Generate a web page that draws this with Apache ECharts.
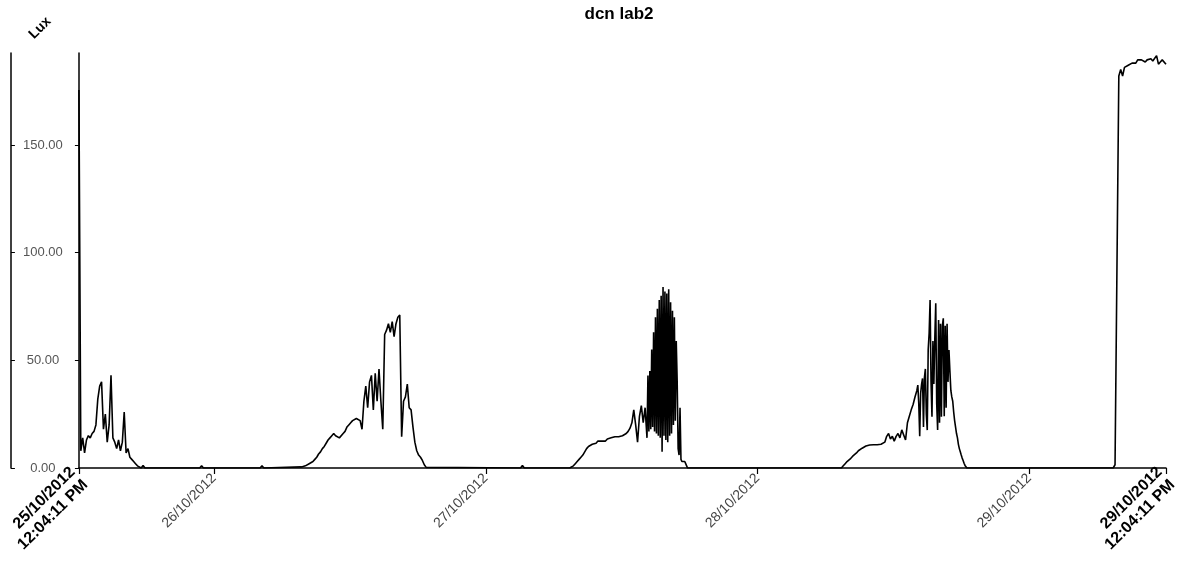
<!DOCTYPE html>
<html>
<head>
<meta charset="utf-8">
<title>dcn lab2</title>
<script src="https://cdn.jsdelivr.net/npm/echarts@6/dist/echarts.min.js"></script>
<style>
  html, body { margin: 0; padding: 0; background: #fff; }
  #chart { width: 1190px; height: 562px; }
</style>
</head>
<body>
<div id="chart"></div>
<script>
// time range of the log (UTC, so no DST surprises)
const startMs = Date.UTC(2012, 9, 25, 12, 4, 11);
const endMs = Date.UTC(2012, 9, 29, 12, 4, 11);

// x axis ticks and their labels
const xTickTimes = [
    startMs,
    Date.UTC(2012, 9, 26), Date.UTC(2012, 9, 27), Date.UTC(2012, 9, 28), Date.UTC(2012, 9, 29),
    endMs
];
const xTickLabels = [
    '25/10/2012\n12:04:11 PM',
    '26/10/2012', '27/10/2012', '28/10/2012', '29/10/2012',
    '29/10/2012\n12:04:11 PM'
];
const yTicks = [0, 50, 100, 150];

// lux readings. each run: minutes after start, step in minutes
const lux25 = [175.5, 8, 14, 7, 13, 15, 14, 16, 17, 20, 32, 38, 40, 18, 25, 12, 20, 43, 14, 12,
    9, 13, 8, 12, 26, 7, 9, 5, 4, 3, 2, 1, 0.5, 0];
const lux26 = [0.5, 1, 1, 1.5, 2, 2, 3, 4, 5, 6.5, 7.5, 9, 10, 11.5, 13, 14, 15, 16, 15, 14.5,
    14, 14, 16, 17, 19, 20, 21, 22, 22, 23, 23, 22, 18, 31, 38, 28, 40, 43, 27, 44,
    31, 46, 31, 18, 62, 64, 67, 63, 68, 61, 67, 70, 71, 14.5, 31, 33, 39, 28, 27, 19,
    12, 8, 6, 5, 3.5, 1.5, 0.3, 0];
const lux27Rise = [0, 0.5, 1, 2, 3, 4, 5, 6, 7.5, 9, 10, 10.5, 11, 11.5, 11.5, 12.5, 12, 12.5, 13, 12.5,
    13.5, 13.5, 14, 13.5, 14.5, 14, 14.5, 15, 15, 15.5, 16, 17, 18.5, 21, 27, 20, 12, 24, 29, 21, 28];
const lux27Peak = [14, 43, 17, 45, 18, 55, 19, 63, 17, 70, 16, 74, 15, 78, 14, 80, 7.5, 84, 15, 82,
    13, 81, 12, 83, 15, 77, 16, 73, 20, 70, 22, 59, 40, 9, 6, 28, 4, 3, 3, 2.5, 3, 2, 1, 0];
const lux28Rise = [0, 1, 2, 3, 3.7, 4.5, 5.5, 6.3, 7, 8, 8.5, 9.2, 9.8, 10.2, 10.7, 10.7, 10.7, 10.8, 10.7, 10.8,
    10.7, 11, 11.5, 12, 14.7, 16, 13.5, 14.7, 12.5, 14.7, 16, 14, 17.7, 18.5, 13, 21, 24, 27, 29.5, 33];
const lux28Peak = [36, 38.5, 30, 14.7, 34.7, 39, 41.6, 19, 42, 46, 25, 17.6, 55, 62.5, 78, 40, 23.8, 59, 39, 60,
    76.5, 30, 17.6, 68.7, 21, 67, 23.8, 66, 69.5, 24, 66, 28, 67, 40, 54.8, 45, 36, 33, 31, 26,
    22, 19, 16, 14, 11, 9, 7.5, 6, 4.6, 3.5, 2.2, 1.2, 0.7, 0];
const lux29 = [0, 1.5, 1.5, 182, 185, 182, 186, 186.5, 187, 187.5, 188, 188.5, 188, 189.5, 189, 189.5, 189, 188.5,
    189.5, 190, 190, 189, 188.5, 191.5, 187.5, 188.5, 189.5, 190, 187.5];
const runStarts = [0, 1180, 2600, 3010, 4040, 4440, 5480];
const runSteps = [10, 10, 10, 5, 10, 5, 10];
const runs = [lux25, lux26, lux27Rise, lux27Peak, lux28Rise, lux28Peak, lux29];

// small single blips on the night baseline
const blipMinutes = [340, 650, 970, 2350];
const blipLux = [1.2, 1, 1, 1.2];

const fontFamily = '"Liberation Sans", Arial, sans-serif';

function buildData() {
    let pts = [];
    runs.forEach((vals, r) => {
        vals.forEach((v, i) => {
            pts.push([startMs + (runStarts[r] + i * runSteps[r]) * 60000, v]);
        });
    });
    blipMinutes.forEach((m, i) => {
        pts.push([startMs + (m - 10) * 60000, 0]);
        pts.push([startMs + m * 60000, blipLux[i]]);
        pts.push([startMs + (m + 10) * 60000, 0]);
    });
    pts.sort((a, b) => a[0] - b[0]);
    return pts;
}

const chart = echarts.init(document.getElementById('chart'), null, { renderer: 'canvas' });

const option = {
    animation: false,
    backgroundColor: '#fff',
    title: {
        text: 'dcn lab2',
        left: 614,
        top: 1,
        textAlign: 'center',
        textStyle: { fontFamily: fontFamily, fontSize: 17, fontWeight: 'bold', color: '#000' }
    },
    graphic: [{
        type: 'text',
        x: 40,
        y: 28,
        rotation: Math.PI / 4,
        style: {
            text: 'Lux',
            font: 'bold 14px ' + fontFamily,
            fill: '#000',
            align: 'center',
            verticalAlign: 'middle'
        }
    }],
    grid: { left: 78, right: 24, top: 53, bottom: 94, containLabel: false },
    xAxis: {
        // timestamps on a value axis, so the tick list can be given exactly
        type: 'value',
        min: startMs,
        max: endMs,
        axisLine: { lineStyle: { color: '#000', width: 1.5 } },
        axisTick: { customValues: xTickTimes, length: 6, lineStyle: { color: '#000', width: 1.2 } },
        axisLabel: {
            customValues: xTickTimes,
            rotate: 45,
            margin: 8,
            formatter: function (value) {
                const i = xTickTimes.indexOf(value);
                const txt = i >= 0 ? xTickLabels[i] : '';
                if (txt.indexOf('\n') >= 0) {
                    return txt.split('\n').map(s => '{b|' + s + '}').join('\n');
                }
                return '{d|' + txt + '}';
            },
            rich: {
                b: { fontFamily: fontFamily, fontSize: 16, fontWeight: 'bold', color: '#000', lineHeight: 18 },
                d: { fontFamily: fontFamily, fontSize: 14, color: '#444' }
            }
        },
        splitLine: { show: false }
    },
    yAxis: [{
        type: 'value',
        min: 0,
        max: 192.7,
        position: 'left',
        axisLine: { show: true, lineStyle: { color: '#000', width: 1.5 } },
        axisTick: { show: true, customValues: yTicks, length: 4, lineStyle: { color: '#000' } },
        axisLabel: {
            customValues: yTicks,
            formatter: v => v.toFixed(2),
            color: '#555',
            fontFamily: fontFamily,
            fontSize: 13,
            margin: 36,
            align: 'center'
        },
        splitLine: { show: false }
    }, {
        type: 'value',
        min: 0,
        max: 192.7,
        position: 'left',
        offset: 68,
        axisLine: { show: true, lineStyle: { color: '#000', width: 1.5 } },
        axisTick: { show: true, inside: true, customValues: yTicks, length: 4, lineStyle: { color: '#000' } },
        axisLabel: { show: false },
        splitLine: { show: false }
    }],
    series: [{
        name: 'Lux',
        type: 'line',
        yAxisIndex: 0,
        showSymbol: false,
        sampling: false,
        lineStyle: { color: '#000', width: 1.6 },
        data: buildData()
    }]
};

chart.setOption(option);
</script>
</body>
</html>
